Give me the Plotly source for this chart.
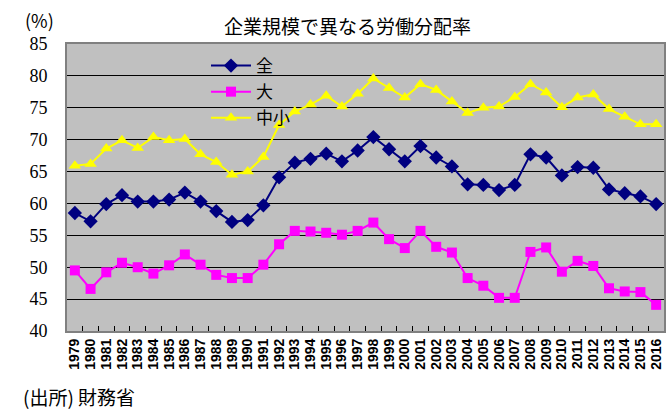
import plotly.graph_objects as go

years = [str(y) for y in range(1979, 2017)]
zen = [58.5, 57.2, 59.9, 61.3, 60.3, 60.3, 60.6, 61.7, 60.3, 58.8,
       57.1, 57.4, 59.7, 64.1, 66.4, 67.0, 67.8, 66.6, 68.3, 70.4,
       68.5, 66.6, 69.0, 67.2, 65.8, 63.0, 62.9, 62.1, 62.9, 67.7,
       67.2, 64.4, 65.7, 65.6, 62.2, 61.6, 61.1, 59.9]
dai = [49.5, 46.6, 49.2, 50.7, 50.0, 49.0, 50.3, 52.0, 50.4, 48.8,
       48.3, 48.3, 50.4, 53.6, 55.7, 55.6, 55.4, 55.1, 55.7, 57.0,
       54.4, 53.0, 55.7, 53.2, 52.3, 48.3, 47.1, 45.2, 45.2, 52.4,
       53.1, 49.3, 51.0, 50.2, 46.7, 46.2, 46.1, 44.1]
chusho = [65.9, 66.2, 68.6, 69.9, 68.7, 70.4, 69.9, 70.1, 67.7, 66.5,
          64.5, 65.0, 67.3, 72.3, 74.4, 75.5, 76.9, 75.2, 77.2, 79.6,
          78.1, 76.6, 78.7, 77.8, 76.0, 74.2, 75.0, 75.2, 76.7, 78.7,
          77.4, 75.1, 76.6, 77.1, 74.8, 73.6, 72.4, 72.4]
y_ticks = [40, 45, 50, 55, 60, 65, 70, 75, 80, 85]

fig = go.Figure()
fig.add_trace(go.Scatter(x=years, y=zen, name="全", mode="lines+markers",
                         legendgroup="a",
                         line=dict(color="#000080", width=2),
                         marker=dict(symbol="diamond", size=11, color="#000080")))
fig.add_trace(go.Scatter(x=years, y=dai, name="大", mode="lines+markers",
                         legendgroup="b",
                         line=dict(color="#FF00FF", width=2),
                         marker=dict(symbol="square", size=10, color="#FF00FF")))
fig.add_trace(go.Scatter(x=years, y=chusho, name="中小", mode="lines+markers",
                         legendgroup="c",
                         line=dict(color="#FFFF00", width=2),
                         marker=dict(symbol="triangle-up", size=11, color="#FFFF00")))

jp = "Noto Sans CJK JP"
W, H = 672, 412
pl, pr, pt, pb = 67, 8, 44, 81
pw, ph = W - pl - pr, H - pt - pb


def px(x):
    return (x - pl) / pw


def py(y):
    return (H - pb - y) / ph


fig.update_layout(
    width=W, height=H,
    margin=dict(l=pl, r=pr, t=pt, b=pb, autoexpand=False),
    paper_bgcolor="white", plot_bgcolor="#C0C0C0",
    font=dict(family=jp, color="black"),
    showlegend=True,
    legend=dict(x=px(206), y=py(48), xanchor="left", yanchor="top",
                bgcolor="rgba(0,0,0,0)", font=dict(size=17, family=jp),
                traceorder="grouped", tracegroupgap=1, itemwidth=40),
    xaxis=dict(type="category", tickangle=-90, ticks="inside", ticklen=5,
               tickcolor="black", showgrid=False, automargin=False,
               tickmode="linear", dtick=1,
               tickfont=dict(size=14, family="Liberation Sans", color="black",
                             weight="bold"),
               showline=True, linecolor="#808080", linewidth=2, mirror=True,
               range=[-0.5, 37.5], tickson="boundaries"),
    yaxis=dict(range=[40, 85], tickvals=y_ticks, showgrid=True,
               gridcolor="black", gridwidth=1, ticks="", automargin=False,
               ticklabelstandoff=14,
               tickfont=dict(size=18, family="Liberation Sans Narrow", color="black"),
               showline=True, linecolor="#808080", linewidth=2, mirror=True,
               zeroline=False),
    annotations=[
        dict(text="企業規模で異なる労働分配率", x=px(347), y=py(25),
             xref="paper", yref="paper", xanchor="center", yanchor="middle",
             showarrow=False, font=dict(size=19, family=jp)),
        dict(text="(%)", x=px(39), y=py(20),
             xref="paper", yref="paper", xanchor="center", yanchor="middle",
             showarrow=False, font=dict(size=18, family=jp)),
        dict(text="(出所) 財務省", x=px(21), y=py(397),
             xref="paper", yref="paper", xanchor="left", yanchor="middle",
             showarrow=False, font=dict(size=19, family=jp)),
    ],
)

fig.write_html("out.html", config={"displayModeBar": False},
               post_script="document.body.style.margin='0';document.body.style.overflow='hidden';")
